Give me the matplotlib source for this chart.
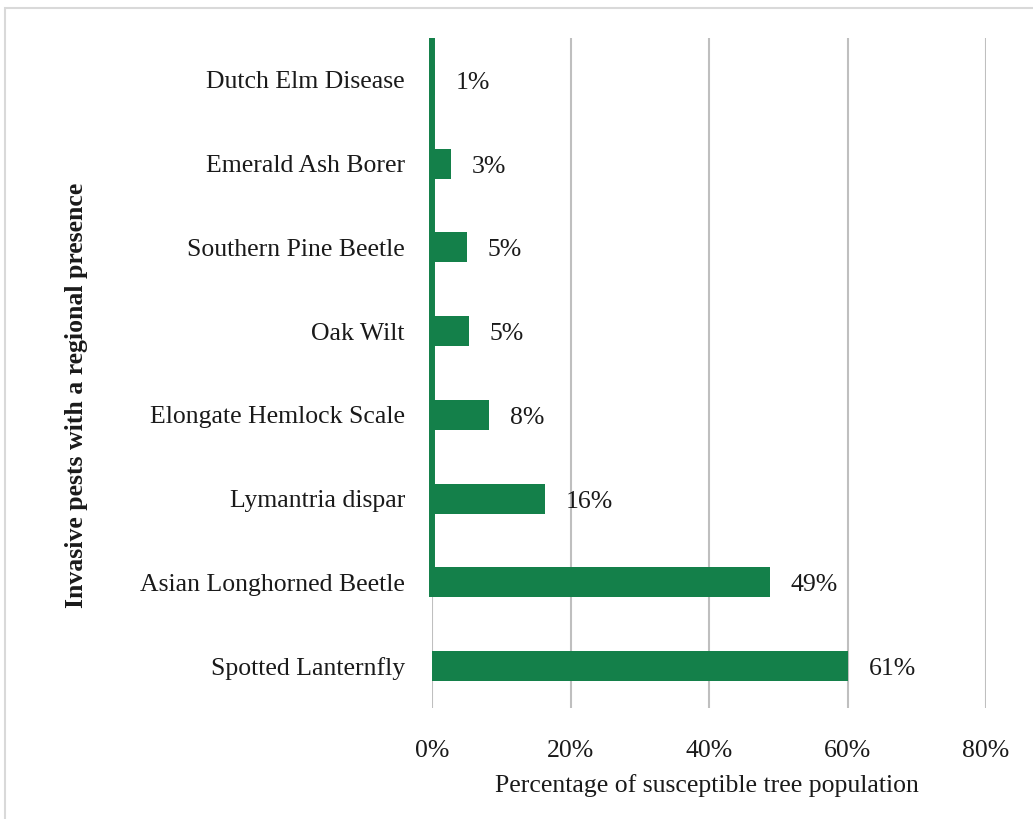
import matplotlib
matplotlib.use("Agg")
import matplotlib.pyplot as plt
from matplotlib.patches import Rectangle

categories = ["Spotted Lanternfly", "Asian Longhorned Beetle", "Lymantria dispar",
              "Elongate Hemlock Scale", "Oak Wilt", "Southern Pine Beetle",
              "Emerald Ash Borer", "Dutch Elm Disease"]
values = [60.1, 48.8, 16.3, 8.2, 5.3, 5.0, 2.7, 0.4]
value_labels = ["61%", "49%", "16%", "8%", "5%", "5%", "3%", "1%"]
xticks = [0, 20, 40, 60, 80]
xtick_labels = ["0%", "20%", "40%", "60%", "80%"]

plt.rcParams['font.family'] = ['Liberation Serif', 'DejaVu Serif']
FS = 18.5
W, H = 1033, 819
fig = plt.figure(figsize=(W/100, H/100), dpi=100)
ax = fig.add_axes([432/W, 1-708/H, (986-432)/W, (708-38)/H])

green = "#14804a"
txt = "#1a1a1a"
ypos = list(range(len(categories)))
ax.barh(ypos, values, height=0.36, color=green, zorder=3)
for y, v, lab in zip(ypos, values, value_labels):
    ax.annotate(lab, (v, y), xytext=(21, -3), textcoords="offset pixels",
                ha="left", va="center", fontsize=FS, color=txt)

ax.set_xlim(0, 80)
ax.set_ylim(-0.5, len(categories) - 0.5)
ax.set_xticks(xticks)
ax.set_xticklabels(xtick_labels, fontsize=FS)
ax.set_yticks(ypos)
ax.set_yticklabels(categories, fontsize=FS)
ax.tick_params(axis="both", length=0, colors=txt)
ax.tick_params(axis="x", pad=23)
ax.tick_params(axis="y", pad=19.5)
ax.grid(axis="x", color="#bfbfbf", linewidth=1.5, zorder=0)
for s in ax.spines.values():
    s.set_visible(False)
# green axis line at zero, covering the upper categories
ax.axvline(0, ymin=(0.5 + 0.82) / 8, ymax=1, color=green, linewidth=4.3,
           zorder=4, clip_on=False, solid_capstyle="butt")

ax.set_xlabel("Percentage of susceptible tree population", fontsize=FS, color=txt, va="center")
ax.xaxis.set_label_coords(0.497, (708-786)/670)
ax.set_ylabel("Invasive pests with a regional presence", fontsize=FS, fontweight="bold", color=txt, va="center")
ax.yaxis.set_label_coords((77-432)/554, (708-395)/670)

fig.patches.append(Rectangle((5/W, -0.1), 1.2, 1.1 - 8/H, transform=fig.transFigure,
                             fill=False, edgecolor="#d9d9d9", linewidth=1.5, clip_on=False))

fig.savefig("out.png", dpi=100)
